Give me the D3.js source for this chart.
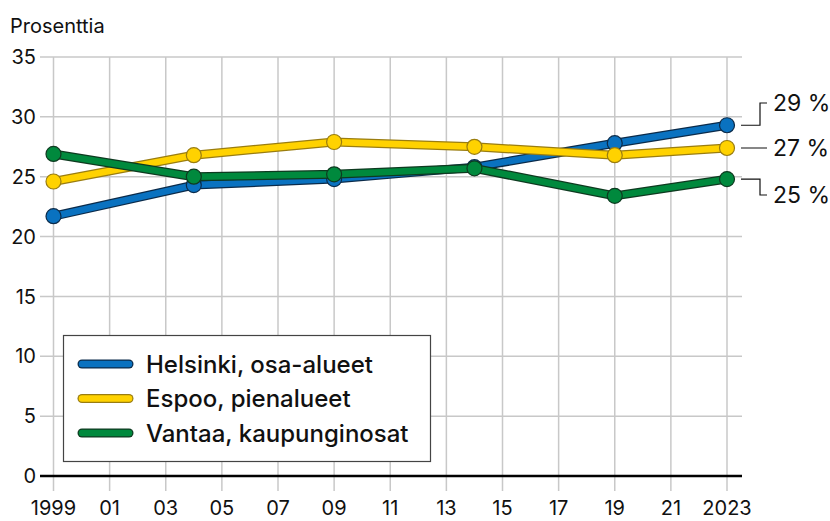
<!DOCTYPE html>
<html>
<head>
<meta charset="utf-8">
<script src="https://cdn.jsdelivr.net/npm/d3@7"></script>
<style>
	body { margin: 0; background: #fff; }
	svg text { font-family: "Inter", "Roboto", sans-serif; fill: #111; }
</style>
</head>
<body>
<div id="chart"></div>
<script>
const years = [1999, 2004, 2009, 2014, 2019, 2023];
const helsinki = [21.7, 24.3, 24.8, 25.8, 27.8, 29.3];
const espoo = [24.6, 26.8, 27.9, 27.5, 26.8, 27.4];
const vantaa = [26.9, 25.0, 25.2, 25.7, 23.4, 24.8];
const seriesNames = ["Helsinki, osa-alueet", "Espoo, pienalueet", "Vantaa, kaupunginosat"];
const endLabels = ["29 %", "27 %", "25 %"];
const xTicks = [1999, 2001, 2003, 2005, 2007, 2009, 2011, 2013, 2015, 2017, 2019, 2021, 2023];
const yTicks = [0, 5, 10, 15, 20, 25, 30, 35];

const fills = ["#0a72c0", "#ffd200", "#00893d"];
const outlines = ["#0b2b4a", "#9a7d10", "#0e3a20"];

const W = 830, H = 521;
const svg = d3.select("#chart")
	.append("svg")
	.attr("width", W)
	.attr("height", H);

const x = d3.scaleLinear().domain([1999, 2023]).range([53.5, 727]);
const y = d3.scaleLinear().domain([0, 35]).range([476, 57]);

// grid
svg.append("g")
	.selectAll("line")
	.data(xTicks)
	.join("line")
	.attr("x1", d => x(d)).attr("x2", d => x(d))
	.attr("y1", y(35)).attr("y2", 491)
	.attr("stroke", "#c8c8c8")
	.attr("stroke-width", 1.5);

svg.append("g")
	.selectAll("line")
	.data(yTicks.filter(d => d > 0))
	.join("line")
	.attr("x1", 40).attr("x2", 742)
	.attr("y1", d => y(d)).attr("y2", d => y(d))
	.attr("stroke", "#c8c8c8")
	.attr("stroke-width", 1.5);

// zero line
svg.append("line")
	.attr("x1", 40).attr("x2", 742)
	.attr("y1", y(0)).attr("y2", y(0))
	.attr("stroke", "#000")
	.attr("stroke-width", 2.5);

// y labels
svg.append("g")
	.selectAll("text")
	.data(yTicks)
	.join("text")
	.attr("x", 36)
	.attr("y", d => y(d))
	.attr("dy", "0.36em")
	.attr("text-anchor", "end")
	.style("font-size", "20px")
	.text(d => d);

// x labels
svg.append("g")
	.selectAll("text")
	.data(xTicks)
	.join("text")
	.attr("x", d => x(d))
	.attr("y", 515)
	.attr("text-anchor", "middle")
	.style("font-size", "20px")
	.text(d => (d === 1999 || d === 2023) ? d : String(d % 100).padStart(2, "0"));

svg.append("text")
	.attr("x", 10)
	.attr("y", 33)
	.style("font-size", "20px")
	.text("Prosenttia");

// lines
const allSeries = [helsinki, espoo, vantaa];
const line = d3.line()
	.x((d, i) => x(years[i]))
	.y(d => y(d));

allSeries.forEach((vals, k) => {
	const g = svg.append("g");
	g.append("path")
		.attr("d", line(vals))
		.attr("fill", "none")
		.attr("stroke", outlines[k])
		.attr("stroke-width", 9)
		.attr("stroke-linejoin", "round");
	g.append("path")
		.attr("d", line(vals))
		.attr("fill", "none")
		.attr("stroke", fills[k])
		.attr("stroke-width", 6.5)
		.attr("stroke-linejoin", "round");
	g.selectAll("circle")
		.data(vals)
		.join("circle")
		.attr("cx", (d, i) => x(years[i]))
		.attr("cy", d => y(d))
		.attr("r", 7.5)
		.attr("fill", fills[k])
		.attr("stroke", outlines[k])
		.attr("stroke-width", 1.2);
});

// end labels with leaders
const labelY = [103, 148, 195];
allSeries.forEach((vals, k) => {
	const yv = y(vals[vals.length - 1]);
	const ly = labelY[k];
	svg.append("path")
		.attr("d", `M741,${yv}H760V${ly}H767`)
		.attr("fill", "none")
		.attr("stroke", "#111")
		.attr("stroke-width", 1.2);
	svg.append("text")
		.attr("x", 773)
		.attr("y", ly)
		.attr("dy", "0.36em")
		.style("font-size", "23px")
		.text(endLabels[k]);
});

// legend
const legend = svg.append("g");
legend.append("rect")
	.attr("x", 63.5).attr("y", 335.5)
	.attr("width", 367).attr("height", 126)
	.attr("fill", "#fff")
	.attr("stroke", "#444")
	.attr("stroke-width", 1.2);

seriesNames.forEach((name, k) => {
	const ly = 364 + k * 34.5;
	legend.append("line")
		.attr("x1", 82).attr("x2", 129)
		.attr("y1", ly).attr("y2", ly)
		.attr("stroke", outlines[k])
		.attr("stroke-width", 9)
		.attr("stroke-linecap", "round");
	legend.append("line")
		.attr("x1", 82).attr("x2", 129)
		.attr("y1", ly).attr("y2", ly)
		.attr("stroke", fills[k])
		.attr("stroke-width", 6.5)
		.attr("stroke-linecap", "round");
	legend.append("text")
		.attr("x", 146)
		.attr("y", ly)
		.attr("dy", "0.36em")
		.style("font-size", "24px")
		.style("font-weight", 500)
		.text(name);
});
</script>
</body>
</html>
